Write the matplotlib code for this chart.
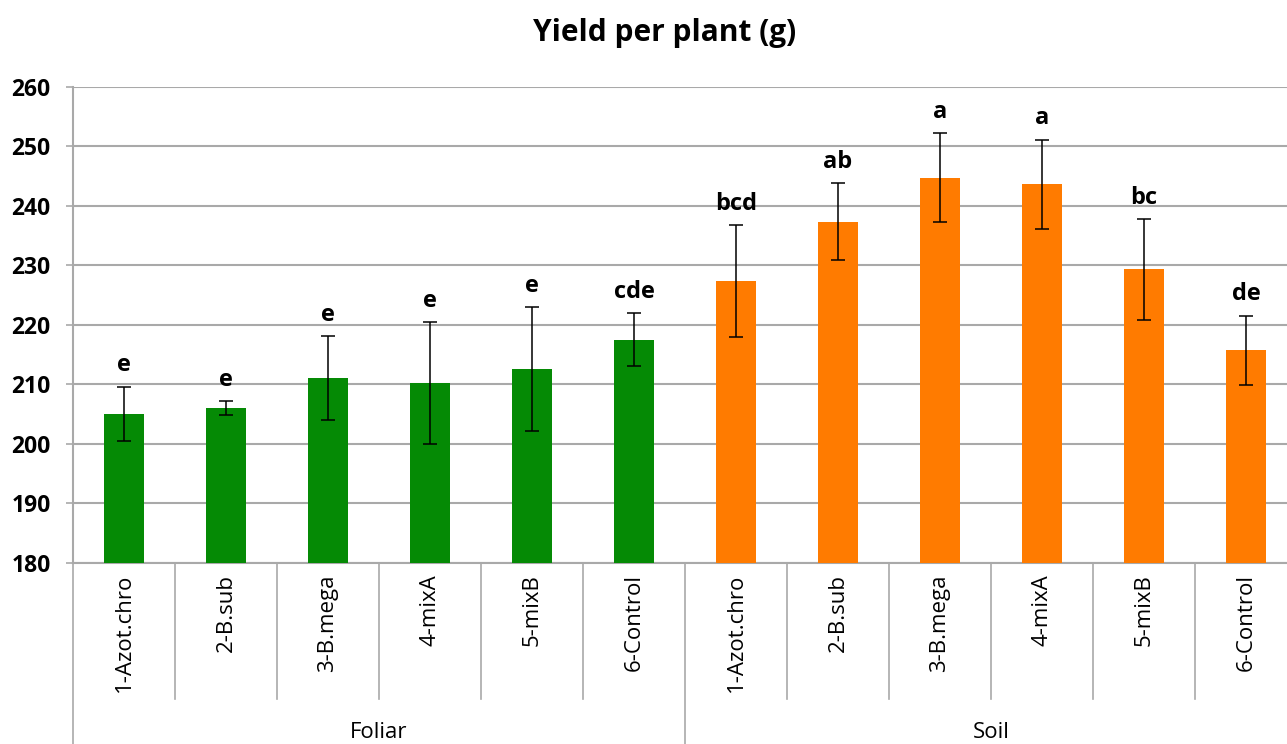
import matplotlib
matplotlib.use("Agg")
import matplotlib.pyplot as plt

# ---- data ----
treatments = ["1-Azot.chro", "2-B.sub", "3-B.mega", "4-mixA", "5-mixB", "6-Control"]
groups = ["Foliar", "Soil"]
foliar_values = [205.0, 206.0, 211.0, 210.2, 212.5, 217.5]
foliar_errors = [4.6, 1.1, 7.1, 10.2, 10.4, 4.4]
foliar_letters = ["e", "e", "e", "e", "e", "cde"]
soil_values = [227.3, 237.3, 244.7, 243.6, 229.3, 215.7]
soil_errors = [9.4, 6.5, 7.5, 7.5, 8.5, 5.8]
soil_letters = ["bcd", "ab", "a", "a", "bc", "de"]
y_ticks = [180, 190, 200, 210, 220, 230, 240, 250, 260]
title = "Yield per plant (g)"

plt.rcParams['font.family'] = ['Open Sans', 'DejaVu Sans']

W, H = 1287, 744
fig = plt.figure(figsize=(W / 100, H / 100), dpi=100)
ax_left, ax_right, ax_top, ax_bot = 73, 1297, 86.7, 562.7
ax = fig.add_axes([ax_left / W, 1 - ax_bot / H, (ax_right - ax_left) / W, (ax_bot - ax_top) / H])

green = "#058a05"
orange = "#ff7b00"
grid_c = "#a9a9a9"

values = foliar_values + soil_values
errors = foliar_errors + soil_errors
letters = foliar_letters + soil_letters
colors = [green] * len(foliar_values) + [orange] * len(soil_values)
x = list(range(len(values)))

ax.bar(x, values, width=0.4, color=colors, zorder=3)
ax.errorbar(x, values, yerr=errors, fmt="none", ecolor="black", elinewidth=1.1,
            capsize=4.7, capthick=1.1, zorder=4)

for xi, v, e, lab in zip(x, values, errors, letters):
    ax.annotate(lab, (xi, v + e), xytext=(0, 11), textcoords="offset points",
                ha="center", va="baseline", fontsize=17, fontweight="bold", color="black")

ax.set_xlim(-0.5, len(values) - 0.5)
ax.set_ylim(y_ticks[0], y_ticks[-1])
ax.set_yticks(y_ticks)
ax.set_yticklabels([str(t) for t in y_ticks], fontsize=16.5, fontweight="bold")
ax.tick_params(axis="y", length=5, width=1.2, color=grid_c, pad=11)
ax.set_xticks([])
ax.grid(axis="y", color=grid_c, lw=1.5, zorder=0)
for s in ["top", "right"]:
    ax.spines[s].set_visible(False)
ax.spines["left"].set_color(grid_c)
ax.spines["left"].set_linewidth(1.5)
ax.spines["bottom"].set_color(grid_c)
ax.spines["bottom"].set_linewidth(1.5)

trans = ax.get_xaxis_transform()
h_axes = ax_bot - ax_top
minor_drop = -(699 - ax_bot) / h_axes
major_drop = -(745 - ax_bot) / h_axes
n = len(treatments)
for k in range(len(values) + 1):
    is_group = (k % n == 0)
    ax.plot([k - 0.5, k - 0.5], [0, major_drop if is_group else minor_drop],
            transform=trans, color=grid_c, lw=1.2, clip_on=False)

label_top = -(574 - ax_bot) / h_axes
for xi in x:
    ax.text(xi, label_top, treatments[xi % n], transform=trans, rotation=90,
            ha="center", va="top", fontsize=16)

group_y = -(732 - ax_bot) / h_axes
for gi, g in enumerate(groups):
    ax.text(gi * n + (n - 1) / 2, group_y, g, transform=trans, ha="center",
            va="center", fontsize=16)

fig.text(665 / W, 1 - 33 / H, title, ha="center", va="center", fontsize=21.5, fontweight="bold")

fig.savefig("out.png", dpi=100)
